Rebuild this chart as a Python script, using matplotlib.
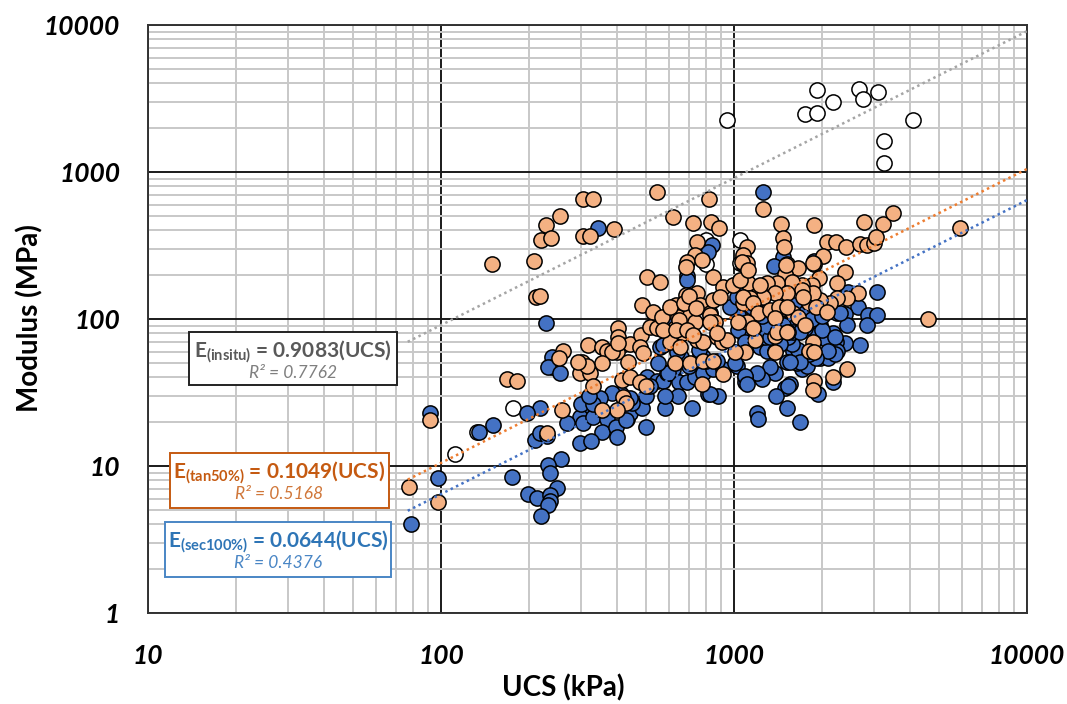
import matplotlib
matplotlib.use("Agg")
import matplotlib.pyplot as plt
from matplotlib.ticker import LogLocator, NullFormatter, FixedLocator, FixedFormatter
from matplotlib.patches import Rectangle
import numpy as np

# ---------------- data ----------------
ucs_insitu = [112, 133, 176, 800, 800, 950, 1050, 1050, 1750, 1920, 1920, 2180,
              2670, 2760, 3100, 3250, 3250, 4080]
E_insitu = [12.1, 17, 25, 345, 235, 2270, 344, 240, 2480, 3600, 2510, 3000,
            3670, 3140, 3500, 1620, 1150, 2260]

ucs_sec = [344, 228, 842, 815, 692, 692, 1256, 1470, 1370, 1874, 2450, 3075, 2650, 2864, 3075,
           2250, 2393, 2128, 2845, 2430, 2690, 2393, 2178, 2227, 2128, 2250, 2075, 1966, 1900,
           1800, 1745, 1966, 2100, 1800, 1720, 1706, 1780, 1640, 1595, 1652, 1578, 1517, 1530,
           2178, 1930, 1550, 1493, 1390, 1517, 1680, 1196, 1205, 1380, 1330, 1245, 1196, 1090,
           1090, 1024, 1530, 1160, 1230, 1297, 1380, 1432, 1280, 1330, 1090, 1135, 1065, 1030,
           1578, 2300,
           239, 240, 232, 255, 218, 410, 383, 337, 315, 350, 308, 298, 305, 330, 368, 354, 395,
           430, 442, 485, 500, 450, 505, 500, 546, 572, 590, 619, 650, 643, 580, 717, 692, 736,
           784, 815, 883, 848, 916, 800, 873, 765, 619, 595, 552, 517, 580, 1010, 559,
           92, 135, 150, 197, 209, 218, 230, 269, 298, 326, 398, 300, 330, 320, 442, 427, 257,
           232, 235, 175, 98, 79, 249, 198, 213, 235, 235, 232, 219,
           600, 572, 784, 1030, 969, 1090, 1470, 1300, 1595, 1680, 2000, 2220, 2220, 2100, 1900,
           1800, 1680, 1550, 1090, 1107, 828, 1074,
           1020, 1150, 1250, 1400, 1600, 1750, 1850, 2000, 1200, 1100, 660, 700, 760, 640]
E_sec = [416, 94, 318, 286, 196, 184, 731, 264, 230, 250, 153, 153, 121, 106, 106,
         110, 108, 119, 91, 91, 66.5, 68.5, 80, 70, 66.5, 61, 72, 91, 84,
         95, 87, 54, 54, 54, 55, 46, 48, 50, 61, 62, 68, 51, 75,
         37, 31, 36, 34, 30, 24.7, 20, 23, 21, 43, 47, 39, 43, 40,
         37, 48, 35, 68, 64, 61, 61, 68, 75, 76, 75, 80, 98, 84,
         98, 110,
         55, 47, 47, 43, 25, 31, 31.5, 29, 28, 29, 24, 21.6, 19.5, 21.6, 21, 17, 18.4,
         21, 23, 25, 18.5, 27, 40, 30, 38, 38, 43, 42, 37, 30, 25, 25, 37, 40,
         43, 31, 30, 46, 46, 52, 52, 59, 46, 43, 50, 35, 30, 50, 65,
         23, 17, 19, 23, 15, 16.8, 16, 19.5, 14.3, 14.8, 15.7, 26.5, 26.5, 30, 29, 20.5, 11.2,
         10.2, 9, 8.4, 8.3, 4.0, 7.1, 6.5, 6.05, 6.3, 5.8, 5.4, 4.6,
         89, 66.5, 55, 106, 121, 70, 91, 89, 82, 82, 84, 76, 58, 61, 54,
         58, 51, 51, 41, 36, 31, 235,
         141, 120, 105, 110, 125, 110, 100, 105, 135, 160, 55, 48, 62, 60]

ucs_tan = [305, 330, 546, 822, 255, 228, 219, 237, 305, 323, 389, 149, 208, 619, 724, 835, 890,
           211, 218, 748, 736, 692, 686, 778, 848, 505, 559, 686, 748, 485, 529, 634, 708, 765,
           828, 848, 916, 990,
           1256, 1446, 1874, 2780, 3226, 3490, 1470, 1480, 2075, 2230, 2410, 2690, 2845, 3000,
           3055, 1517, 2014, 1874, 1652, 1493, 2393, 1950, 1846, 1706, 1578, 1403, 1297, 1218,
           1116, 1047, 2250, 2650, 2430, 2250, 2128, 1966, 1802, 1860, 1706, 1517, 1380, 1256,
           1135, 1074, 1230, 1468, 1360, 1595, 1900, 2075, 1652,
           4600, 1745, 1860, 1800, 1880, 2430, 2178, 1874, 1860, 1090, 1180, 1010, 1380, 1380,
           1530,
           402, 402, 318, 261, 354, 368, 415, 442, 400, 482, 517, 546, 568, 629, 643, 670, 708,
           736, 748, 784, 828, 873, 910, 945, 604, 479, 490, 436, 383, 303, 298, 323, 330, 354,
           315, 294, 252, 259, 415, 442, 479, 500, 419, 427, 398, 354, 629, 708, 778, 916, 784,
           848,
           92, 230, 98, 78, 168, 182, 402, 604, 650, 572, 636, 692, 656, 724,
           5900, 1107, 1074, 1107, 1065, 1116, 1500, 1860, 860, 1074, 1165, 1205, 1107, 1165,
           1030, 1330, 1420, 1380, 1517, 1720, 1400, 1517,
           895, 828, 873, 677, 700, 740]
E_tan = [655, 655, 730, 655, 500, 436, 344, 355, 367, 367, 410, 237, 248, 494, 450, 456, 416,
         141, 143, 334, 272, 244, 226, 252, 193, 193, 179, 146, 150, 124, 112, 124, 115, 124,
         110, 135, 165, 170,
         560, 443, 436, 457, 443, 526, 356, 309, 334, 334, 309, 323, 318, 329,
         362, 237, 268, 237, 222, 202, 209, 190, 170, 170, 179, 176, 176, 165,
         176, 184, 176, 150, 139, 139, 128, 135, 128, 150, 158, 150, 150, 141,
         139, 128, 170, 119, 110, 110, 121, 112, 103,
         100, 91, 70, 61, 60, 46, 40, 38, 33, 60, 72, 60, 60, 77,
         81,
         87, 76, 66.5, 61, 64, 61, 66.5, 67.5, 60, 78, 88, 87, 103, 87, 103, 80, 106,
         95, 72, 70, 106, 76, 70, 72, 70, 64, 59, 51, 60, 51, 43, 43, 35, 50,
         48, 51, 54, 24, 38.5, 40, 37, 35, 29.5, 27, 24, 24, 50, 50, 36, 42, 52,
         52,
         20.5, 16.8, 5.7, 7.2, 39, 38, 69, 121, 98, 84, 84, 84, 64, 78,
         416, 309, 272, 240, 245, 216, 232, 240, 95, 141, 128, 110, 96, 87,
         95, 115, 121, 101, 121, 141, 82, 82,
         141, 95, 80, 128, 143, 118]

fit_coef = {"insitu": 0.9083, "tan": 0.1049, "sec": 0.0644}
fit_r2 = {"insitu": "0.7762", "tan": "0.5168", "sec": "0.4376"}
fit_x = [77, 10000]
xticks = [10, 100, 1000, 10000]
yticks = [1, 10, 100, 1000, 10000]

# ---------------- style ----------------
FONT = "Lato"
plt.rcParams["font.family"] = [FONT, "DejaVu Sans"]
plt.rcParams["mathtext.fontset"] = "custom"
plt.rcParams["mathtext.rm"] = FONT + ":bold"
plt.rcParams["mathtext.bf"] = FONT + ":bold"
plt.rcParams["mathtext.it"] = FONT + ":bold"

W, H = 1067, 704
fig = plt.figure(figsize=(W / 100, H / 100), dpi=100)
ax = fig.add_axes([148 / W, 1 - 613 / H, (1027 - 148) / W, (613 - 25) / H])

ax.set_xscale("log")
ax.set_yscale("log")
ax.set_xlim(10, 10000)
ax.set_ylim(1, 10000)

ax.xaxis.set_major_locator(FixedLocator(xticks))
ax.xaxis.set_major_formatter(FixedFormatter([str(v) for v in xticks]))
ax.yaxis.set_major_locator(FixedLocator(yticks))
ax.yaxis.set_major_formatter(FixedFormatter([str(v) for v in yticks]))
for a in (ax.xaxis, ax.yaxis):
    a.set_minor_locator(LogLocator(base=10, subs=np.arange(2, 10), numticks=20))
    a.set_minor_formatter(NullFormatter())

ax.set_axisbelow(True)
ax.grid(which="minor", color="#C8C8C8", lw=1.4)
ax.grid(which="major", color="#1a1a1a", lw=1.4)
ax.tick_params(which="both", length=0)
ax.tick_params(axis="y", pad=20)
ax.tick_params(axis="x", pad=22)
for lab in ax.get_xticklabels() + ax.get_yticklabels():
    lab.set_fontsize(19)
    lab.set_fontweight("bold")
    lab.set_fontstyle("italic")
for sp in ax.spines.values():
    sp.set_color("#333333")
    sp.set_linewidth(1.4)

ms = 120
ax.scatter(ucs_insitu, E_insitu, s=ms, facecolor="white", edgecolor="black", lw=1.1, zorder=3)
ax.scatter(ucs_sec, E_sec, s=ms, facecolor="#4472C4", edgecolor="black", lw=1.1, zorder=4)
ax.scatter(ucs_tan, E_tan, s=ms, facecolor="#F4B183", edgecolor="black", lw=1.1, zorder=5)

fx = np.array(fit_x, dtype=float)
ax.plot(fx, fit_coef["insitu"] * fx, color="#A5A5A5", lw=1.8, ls=(0, (1, 1.4)), zorder=6)
ax.plot(fx, fit_coef["tan"] * fx, color="#ED7D31", lw=1.8, ls=(0, (1, 1.4)), zorder=6)
ax.plot(fx, fit_coef["sec"] * fx, color="#4472C4", lw=1.8, ls=(0, (1, 1.4)), zorder=6)

# axis titles
fig.text(563 / W, 1 - 688 / H, "UCS (kPa)", ha="center", va="center",
         fontsize=20, fontweight="bold")
fig.text(30 / W, 1 - 318 / H, "Modulus (MPa)", ha="center", va="center",
         fontsize=20, fontweight="bold", rotation=90)

# equation boxes
def eq_box(x0, y0, x1, y1, sub, key, col, r2col, ecol):
    r = Rectangle((x0 / W, 1 - y1 / H), (x1 - x0) / W, (y1 - y0) / H,
                  transform=fig.transFigure, facecolor="white", edgecolor=ecol,
                  lw=1.4, zorder=10)
    fig.add_artist(r)
    cx = (x0 + x1) / 2
    main = r"$\mathbf{E_{(" + sub + r")}}$" + " = %.4f(UCS)" % fit_coef[key]
    fig.text(cx / W, 1 - (y0 + 20) / H, main, ha="center", va="center",
             fontsize=15, fontweight="bold", color=col, zorder=11)
    fig.text(cx / W, 1 - (y0 + 41) / H, "R² = " + fit_r2[key], ha="center", va="center",
             fontsize=12.5, style="italic", color=r2col, zorder=11)

eq_box(189, 332, 397, 385, "insitu", "insitu", "#595959", "#7F7F7F", "#222222")
eq_box(170, 453, 389, 508, r"tan50\%", "tan", "#C55A11", "#D0773A", "#C55A11")
eq_box(165, 522, 391, 577, r"sec100\%", "sec", "#2E75B6", "#4A86C5", "#4A86C5")

fig.savefig("out.png", dpi=100)
